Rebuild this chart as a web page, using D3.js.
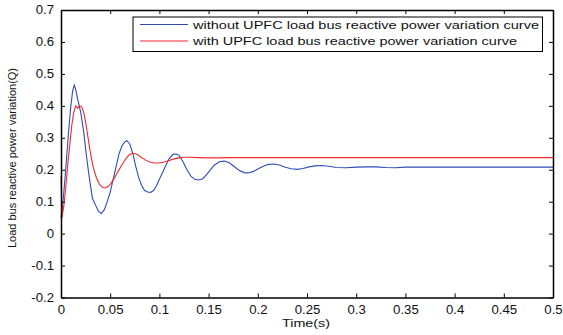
<!DOCTYPE html>
<html><head><meta charset="utf-8">
<script src="https://cdn.jsdelivr.net/npm/d3@7"></script>
<style>body{margin:0;background:#fff}svg{display:block}text{font-family:"Liberation Sans",Arial,sans-serif}</style>
</head><body><svg id="c" width="563" height="335"></svg>
<script>
const xTicks = [0,0.05,0.1,0.15,0.2,0.25,0.3,0.35,0.4,0.45,0.5];
const xTickLabels = ["0","0.05","0.1","0.15","0.2","0.25","0.3","0.35","0.4","0.45","0.5"];
const yTicks = [-0.2,-0.1,0,0.1,0.2,0.3,0.4,0.5,0.6,0.7];
const yTickLabels = ["-0.2","-0.1","0","0.1","0.2","0.3","0.4","0.5","0.6","0.7"];
const seriesNames = ["without UPFC load bus reactive power variation curve","with UPFC load bus reactive power variation curve"];
const seriesColors = ["#2d4db3","#f02a2e"];

const blueT = [0,0.002,0.004,0.006,0.008,0.010,0.012,0.0135,0.015,0.017,0.020,0.023,0.026,0.029,0.032,0.035,0.038,0.041,0.044,0.047,0.050,0.053,0.056,0.059,0.062,0.065,0.067,0.070,0.073,0.076,0.079,0.082,0.085,0.088,0.091,0.094,0.097,0.100,0.103,0.106,0.110,0.114,0.117,0.120,0.124,0.128,0.132,0.136,0.140,0.144,0.148,0.152,0.156,0.161,0.166,0.171,0.176,0.181,0.186,0.190,0.195,0.200,0.205,0.210,0.216,0.222,0.228,0.234,0.240,0.246,0.252,0.258,0.265,0.272,0.28,0.29,0.30,0.31,0.32,0.33,0.34,0.35,0.5];
const blueQ = [0.05,0.10,0.17,0.25,0.33,0.40,0.45,0.465,0.45,0.42,0.38,0.32,0.24,0.17,0.11,0.09,0.07,0.063,0.075,0.10,0.13,0.17,0.21,0.25,0.275,0.288,0.291,0.28,0.25,0.21,0.175,0.15,0.135,0.13,0.129,0.135,0.15,0.17,0.19,0.21,0.235,0.248,0.249,0.245,0.225,0.20,0.18,0.17,0.168,0.172,0.185,0.20,0.215,0.225,0.227,0.222,0.21,0.198,0.191,0.19,0.194,0.202,0.21,0.216,0.218,0.215,0.208,0.203,0.201,0.204,0.209,0.212,0.213,0.211,0.207,0.206,0.208,0.209,0.209,0.207,0.206,0.208,0.208];
const redT = [0,0.001,0.003,0.005,0.007,0.009,0.011,0.013,0.015,0.017,0.019,0.021,0.023,0.025,0.027,0.029,0.031,0.033,0.036,0.039,0.042,0.045,0.048,0.051,0.054,0.057,0.060,0.063,0.066,0.069,0.072,0.075,0.078,0.082,0.086,0.090,0.095,0.100,0.105,0.110,0.115,0.120,0.125,0.130,0.140,0.150,0.160,0.170,0.5];
const redQ = [0.18,0.05,0.09,0.15,0.22,0.28,0.34,0.38,0.40,0.393,0.40,0.397,0.38,0.35,0.31,0.27,0.235,0.205,0.175,0.155,0.145,0.143,0.148,0.158,0.172,0.19,0.205,0.22,0.235,0.246,0.251,0.251,0.247,0.238,0.23,0.224,0.221,0.221,0.224,0.229,0.234,0.237,0.239,0.239,0.238,0.237,0.237,0.238,0.238];

const svg = d3.select("#c");
const L=61, R=553, T=10, B=297.5;
const x = d3.scaleLinear().domain([0,0.5]).range([L,R]);
const y = d3.scaleLinear().domain([-0.2,0.7]).range([B,T]);

const g = svg.append("g");
const line = d3.line().x(d=>x(d[0])).y(d=>y(d[1]));
const series = [d3.zip(blueT,blueQ), d3.zip(redT,redQ)];
g.append("path").datum(series[0]).attr("d",line).attr("fill","none").attr("stroke",seriesColors[0]).attr("stroke-width",1.1);
g.append("path").datum(series[1]).attr("d",line).attr("fill","none").attr("stroke",seriesColors[1]).attr("stroke-width",1.1);

const fmtX = (d,i)=>xTickLabels[i], fmtY=(d,i)=>yTickLabels[i];
const ax = svg.append("g").attr("transform",`translate(0,${B})`).call(d3.axisBottom(x).tickValues(xTicks).tickFormat(fmtX).tickSizeInner(-4).tickSizeOuter(0).tickPadding(8));
const axT = svg.append("g").attr("transform",`translate(0,${T})`).call(d3.axisTop(x).tickValues(xTicks).tickFormat("").tickSizeInner(-4).tickSizeOuter(0));
const ay = svg.append("g").attr("transform",`translate(${L},0)`).call(d3.axisLeft(y).tickValues(yTicks).tickFormat(fmtY).tickSizeInner(-4).tickSizeOuter(0).tickPadding(7));
const ayR = svg.append("g").attr("transform",`translate(${R},0)`).call(d3.axisRight(y).tickValues(yTicks).tickFormat("").tickSizeInner(-4).tickSizeOuter(0));
[ax,axT,ay,ayR].forEach(a=>{a.select(".domain").attr("stroke","#000").attr("stroke-width",1.5);a.selectAll(".tick line").attr("stroke","#000");a.selectAll("text").attr("fill","#111").style("font-size","12px").style("font-family","Liberation Sans, Arial, sans-serif");});
[ax,ay].forEach(a=>a.selectAll("text").each(function(){const w=this.getComputedTextLength();d3.select(this).attr("textLength",w*1.1).attr("lengthAdjust","spacingAndGlyphs");}));

svg.append("text").attr("x",306).attr("y",326.5).attr("text-anchor","middle").style("font-size","11.5px").attr("textLength",48).attr("lengthAdjust","spacingAndGlyphs").attr("fill","#111").text("Time(s)");
svg.append("text").attr("transform",`translate(16,158) rotate(-90)`).attr("text-anchor","middle").style("font-size","10.5px").attr("textLength",180).attr("lengthAdjust","spacingAndGlyphs").attr("fill","#111").text("Load bus reactive power variation(Q)");

const lg = svg.append("g");
lg.append("rect").attr("x",133).attr("y",17).attr("width",409.5).attr("height",34.5).attr("fill","#fff").attr("stroke","#000").attr("stroke-width",1);
const ly=[24.5,41];
const tl=[346,324];
seriesNames.forEach((n,i)=>{
  lg.append("line").attr("x1",140).attr("x2",188).attr("y1",ly[i]).attr("y2",ly[i]).attr("stroke",seriesColors[i]).attr("stroke-width",1.1);
  lg.append("text").attr("x",193).attr("y",ly[i]+4).style("font-size","11.5px").attr("textLength",tl[i]).attr("lengthAdjust","spacingAndGlyphs").attr("fill","#111").text(n);
});
</script></body></html>
